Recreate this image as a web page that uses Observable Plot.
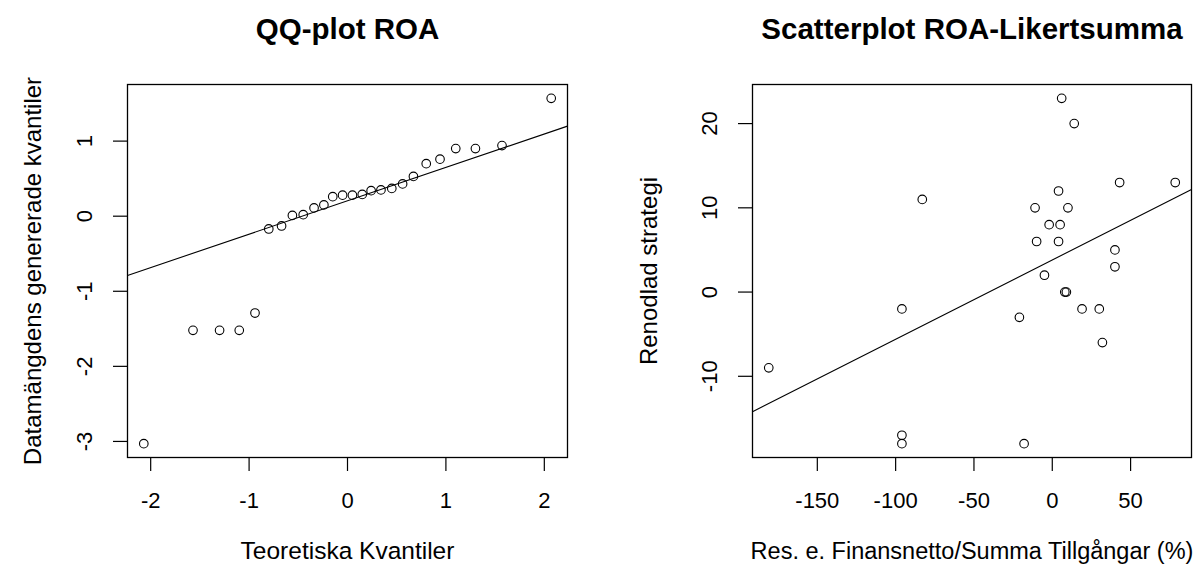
<!DOCTYPE html>
<html><head><meta charset="utf-8">
<script src="https://cdn.jsdelivr.net/npm/d3@7"></script>
<script src="https://cdn.jsdelivr.net/npm/@observablehq/plot@0.6"></script>
<style>
body{margin:0;background:#fff;}
#wrap{position:relative;width:1201px;height:570px;overflow:hidden;background:#fff;}
#wrap > svg{position:absolute;top:0;}
</style></head><body><div id="wrap"></div>
<script>
// ---- Left panel: QQ-plot ----
const qqTitle = "QQ-plot ROA";
const qqXLabel = "Teoretiska Kvantiler";
const qqYLabel = "Datamängdens genererade kvantiler";
const theoreticalQuantiles = [-2.07,-1.57,-1.30,-1.10,-0.94,-0.80,-0.67,-0.56,-0.45,-0.34,-0.24,-0.15,-0.05,0.05,0.15,0.24,0.34,0.45,0.56,0.67,0.80,0.94,1.10,1.30,1.57,2.07];
const roaQuantiles = [-3.03,-1.52,-1.52,-1.52,-1.29,-0.17,-0.13,0.01,0.02,0.11,0.15,0.26,0.28,0.28,0.29,0.34,0.35,0.37,0.43,0.53,0.70,0.76,0.90,0.90,0.94,1.57];
const qqXTicks = [-2,-1,0,1,2];
const qqYTicks = [-3,-2,-1,0,1];
const normalQuartile = 0.6744898; // qnorm(0.75)

// ---- Right panel: scatterplot ----
const scTitle = "Scatterplot ROA-Likertsumma";
const scXLabel = "Res. e. Finansnetto/Summa Tillgångar (%)";
const scYLabel = "Renodlad strategi";
const finansnetto = [6,14,43,78.5,-83,4,-11,10,-2,5,-10,4,40,40,-5,8,9,19,30,-96,-21,32,-181,-96,-96,-18];
const renodlad   = [23,20,13,13,11,12,10,10,8,8,6,6,5,3,2,0,0,-2,-2,-2,-3,-6,-9,-17,-18,-18];
const scXTicks = [-150,-100,-50,0,50];
const scYTicks = [-10,0,10,20];

// R-style axis range: data range extended by 4% on each side
function pad4(values){const [lo,hi]=d3.extent(values);const r=hi-lo;return [lo-0.04*r,hi+0.04*r];}

// qqline: through first and third quartiles
const q1 = d3.quantile(roaQuantiles,0.25), q3 = d3.quantile(roaQuantiles,0.75);
const qqSlope = (q3-q1)/(2*normalQuartile);
const qqInt = q1 + qqSlope*normalQuartile;
const qqXDomain = pad4(theoreticalQuantiles), qqYDomain = pad4(roaQuantiles);
const qqPoints = theoreticalQuantiles.map((x,i)=>({x,y:roaQuantiles[i]}));
const qqLine = qqXDomain.map(x=>({x,y:qqInt+qqSlope*x}));

// lm fit
const mx = d3.mean(finansnetto), my = d3.mean(renodlad);
const sxy = d3.sum(finansnetto,(x,i)=>(x-mx)*(renodlad[i]-my));
const sxx = d3.sum(finansnetto,x=>(x-mx)**2);
const lmSlope = sxy/sxx, lmInt = my-lmSlope*mx;
const scXDomain = pad4(finansnetto), scYDomain = pad4(renodlad);
const scPoints = finansnetto.map((x,i)=>({x,y:renodlad[i]}));
const scLine = scXDomain.map(x=>({x,y:lmInt+lmSlope*x}));

const fmt = d => String(d);
function panel(o){
  const svg = Plot.plot({
    width:o.width, height:570, marginTop:84, marginBottom:113, marginLeft:o.marginLeft, marginRight:o.marginRight,
    style:{fontFamily:"'Liberation Sans', Arial, sans-serif", fontSize:"22px", color:"#000", background:"#fff", overflow:"visible"},
    x:{domain:o.xDomain}, y:{domain:o.yDomain},
    marks:[
      Plot.frame({stroke:"#000", strokeWidth:1.3}),
      Plot.axisX({ticks:o.xTicks, tickSize:14, tickPadding:21, tickFormat:fmt, label:null, strokeWidth:1.2}),
      Plot.axisY({ticks:o.yTicks, tickSize:14, tickPadding:22, tickRotate:-90, tickFormat:fmt, label:null, strokeWidth:1.2}),
      Plot.line(o.line,{x:"x", y:"y", stroke:"#000", strokeWidth:1.1}),
      Plot.dot(o.points,{x:"x", y:"y", r:4.3, stroke:"#000", strokeWidth:1.1, fill:"none"}),
      Plot.text([o.title],{text:d=>d, frameAnchor:"top", dy:-46, lineAnchor:"bottom", textAnchor:"middle", fontSize:29.5, fontWeight:"bold"}),
      Plot.text([o.xLabel],{text:d=>d, frameAnchor:"bottom", dy:101, lineAnchor:"bottom", textAnchor:"middle", fontSize:o.xLabelSize}),
      Plot.text([o.yLabel],{text:d=>d, frameAnchor:"left", dx:o.yLabelDx, rotate:-90, lineAnchor:"bottom", textAnchor:"middle", fontSize:24})
    ]
  });
  svg.style.left = o.left+"px";
  return svg;
}
const wrap = document.getElementById("wrap");
wrap.appendChild(panel({width:600, left:0, marginLeft:127, marginRight:33, xDomain:qqXDomain, yDomain:qqYDomain,
  xTicks:qqXTicks, yTicks:qqYTicks, points:qqPoints, line:qqLine, title:qqTitle, xLabel:qqXLabel, xLabelSize:24.5, yLabel:qqYLabel, yLabelDx:-87}));
wrap.appendChild(panel({width:601, left:600, marginLeft:152, marginRight:10, xDomain:scXDomain, yDomain:scYDomain,
  xTicks:scXTicks, yTicks:scYTicks, points:scPoints, line:scLine, title:scTitle, xLabel:scXLabel, xLabelSize:23.5, yLabel:scYLabel, yLabelDx:-96}));
</script></body></html>
